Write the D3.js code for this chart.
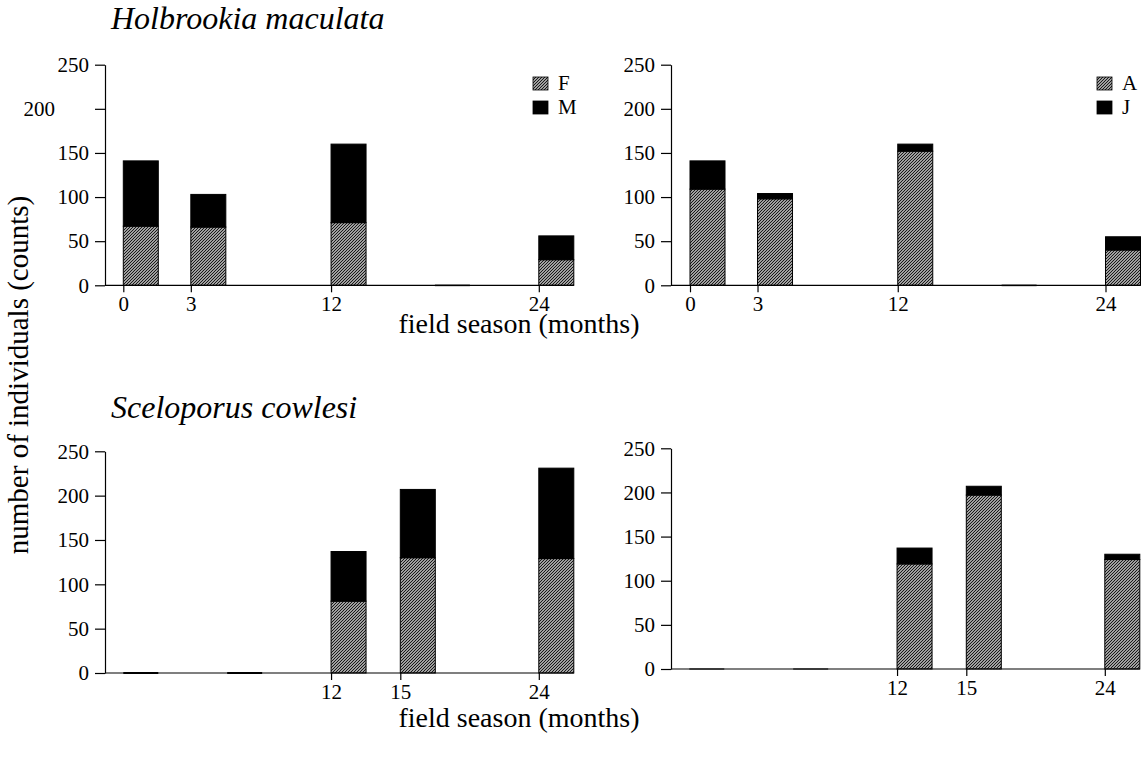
<!DOCTYPE html>
<meta charset="utf-8">
<style>
body { margin: 0; background: #fff; }
svg text { font-family: "Liberation Serif", "Times New Roman", serif; fill: #000; }
.axis path, .axis line { stroke: #000; stroke-width: 1.2; }
.axis text { font-size: 21px; font-family: "Liberation Serif", "Times New Roman", serif; }
.bar { stroke: #000; stroke-width: 1; }
.title { font-size: 32px; font-style: italic; }
.label { font-size: 28px; }
.legend text { font-size: 21px; }
</style>
<svg id="chart" width="1146" height="758"></svg>
<script src="https://d3js.org/d3.v7.min.js"></script>
<script>

// values
var yTicks = [0, 50, 100, 150, 200, 250];

// Holbrookia maculata
var holbTime = [0, 3.9, 12, 18, 24];
var holbLabels = ["0", "3", "12", "", "24"];
var holbF = [67, 66, 71, 0, 29];
var holbM = [74, 37, 89, 0, 27];
var holbA = [109, 98, 152, 0, 40];
var holbJ = [32, 6, 8, 0, 15];

// Sceloporus cowlesi
var scelTime = [0, 6, 12, 16, 24];
var scelLabels = ["", "", "12", "15", "24"];
var scelF = [0, 0, 81, 130, 129];
var scelM = [0, 0, 56, 77, 102];
var scelA = [0, 0, 119, 197, 124];
var scelJ = [0, 0, 18, 10, 6];

var svg = d3.select("#chart");

var defs = svg.append("defs");
var pat = defs.append("pattern")
    .attr("id", "hatch")
    .attr("patternUnits", "userSpaceOnUse")
    .attr("width", 3).attr("height", 3);
pat.append("rect").attr("width", 3).attr("height", 3).attr("fill", "#e0e0e0");
pat.append("path")
    .attr("d", "M-1,1 L1,-1 M0,3 L3,0 M2,4 L4,2")
    .attr("stroke", "#111").attr("stroke-width", 1.2);

var barW = 35;

var panels = [
  { axisX: 105, x0: 123.3, y0: 285.3, y250: 64.7, time: holbTime, labels: holbLabels, lo: holbF, hi: holbM, keys: ["F", "M"], legend: [533, 77] },
  { axisX: 671, x0: 690, y0: 285.3, y250: 64.7, time: holbTime, labels: holbLabels, lo: holbA, hi: holbJ, keys: ["A", "J"], legend: [1097, 77] },
  { axisX: 105, x0: 123.3, y0: 673, y250: 451.3, time: scelTime, labels: scelLabels, lo: scelF, hi: scelM },
  { axisX: 671, x0: 689.3, y0: 669, y250: 448.3, time: scelTime, labels: scelLabels, lo: scelA, hi: scelJ }
];

panels.forEach(function(p, pi) {
  var x = d3.scaleLinear().domain([0, 24]).range([p.x0, p.x0 + 415.5]);
  var y = d3.scaleLinear().domain([0, 250]).range([p.y0, p.y250]);
  var g = svg.append("g");

  // y axis
  var ya = g.append("g")
      .attr("class", "axis")
      .attr("transform", "translate(" + p.axisX + ",0)")
      .call(d3.axisLeft(y).tickValues(yTicks).tickSize(10).tickSizeOuter(0).tickPadding(6));
  if (pi === 0) {
    // the 200 label sits further left in the original
    ya.selectAll(".tick").filter(function(d) { return d === 200; })
      .select("text").attr("x", -50);
  }

  // bars
  var rows = p.time.map(function(t, i) {
    return { t: t, lo: p.lo[i], hi: p.hi[i] };
  });
  rows.forEach(function(d) {
    if (d.lo + d.hi === 0) {
      g.append("rect")
          .attr("x", x(d.t)).attr("width", barW)
          .attr("y", y(0) - 1).attr("height", 2)
          .attr("fill", pi === 2 ? "#000" : "#777");
      return;
    }
    g.append("rect").attr("class", "bar")
        .attr("x", x(d.t)).attr("width", barW)
        .attr("y", y(d.lo)).attr("height", y(0) - y(d.lo))
        .attr("fill", "url(#hatch)");
    g.append("rect").attr("class", "bar")
        .attr("x", x(d.t)).attr("width", barW)
        .attr("y", y(d.lo + d.hi)).attr("height", y(d.lo) - y(d.lo + d.hi))
        .attr("fill", "#000");
  });

  // x axis
  var tickTimes = p.time.filter(function(t, i) { return p.labels[i] !== ""; });
  var xa = g.append("g")
      .attr("class", "axis")
      .attr("transform", "translate(0," + p.y0 + ")")
      .call(d3.axisBottom(x).tickValues(tickTimes).tickSize(7).tickPadding(4)
        .tickFormat(function(t) { return p.labels[p.time.indexOf(t)]; }));
  xa.select(".domain").remove();
  xa.append("line")
      .attr("x1", p.axisX).attr("x2", x(24) + barW)
      .attr("y1", 0).attr("y2", 0);

  // legend
  if (p.keys) {
    var lg = g.append("g").attr("class", "legend")
        .attr("transform", "translate(" + p.legend[0] + "," + p.legend[1] + ")");
    p.keys.forEach(function(k, i) {
      lg.append("rect")
          .attr("x", 0).attr("y", i * 24).attr("width", 15).attr("height", 13)
          .attr("fill", i === 0 ? "url(#hatch)" : "#000")
          .attr("stroke", "#000").attr("stroke-width", 0.8);
      lg.append("text")
          .attr("x", 25).attr("y", i * 24 + 13)
          .text(k);
    });
  }
});

// titles and axis labels
svg.append("text").attr("class", "title").attr("x", 111).attr("y", 29).text("Holbrookia maculata");
svg.append("text").attr("class", "title").attr("x", 111).attr("y", 418).text("Sceloporus cowlesi");

svg.append("text").attr("class", "label")
    .attr("x", 519).attr("y", 333).attr("text-anchor", "middle")
    .text("field season (months)");
svg.append("text").attr("class", "label")
    .attr("x", 519).attr("y", 727).attr("text-anchor", "middle")
    .text("field season (months)");
svg.append("text").attr("class", "label")
    .attr("transform", "translate(28,375) rotate(-90)")
    .attr("text-anchor", "middle")
    .style("font-size", "29px")
    .text("number of individuals (counts)");

</script>
